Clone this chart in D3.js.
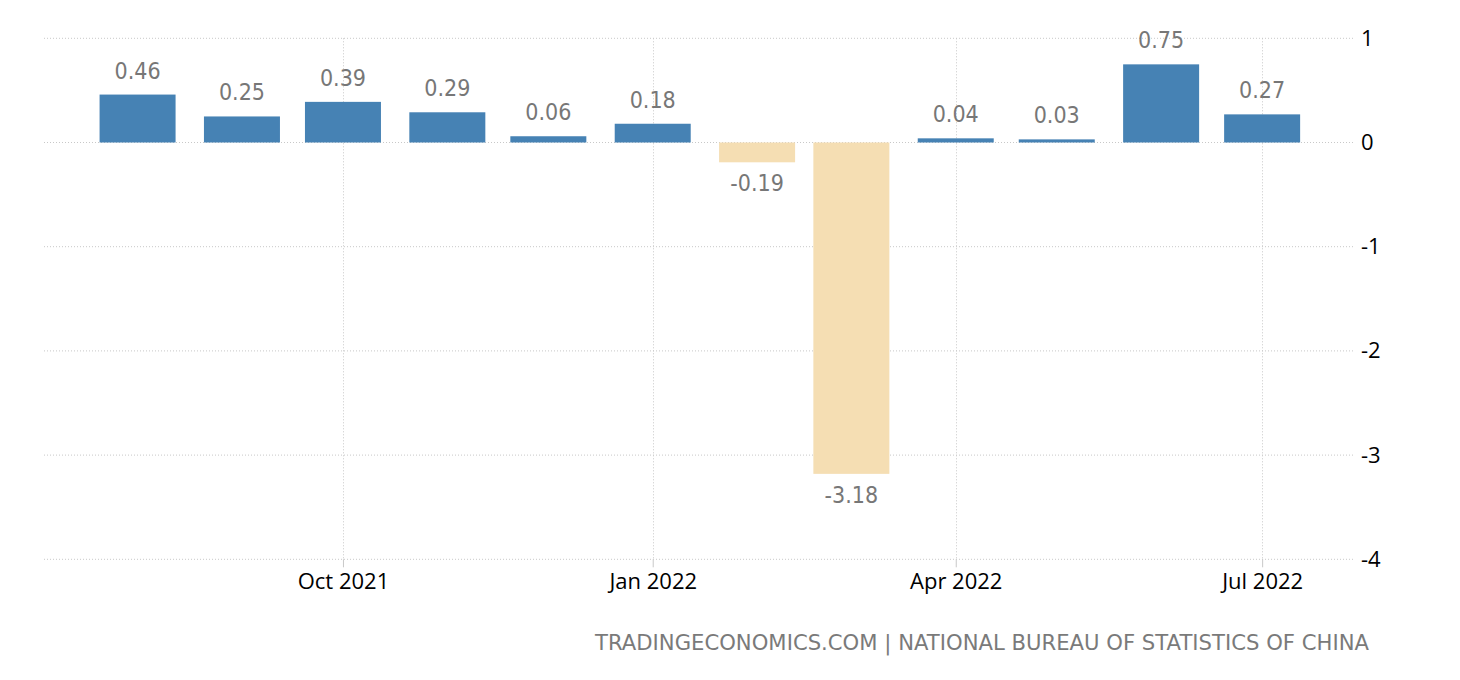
<!DOCTYPE html>
<html>
<head>
<meta charset="utf-8">
<script src="https://cdn.jsdelivr.net/npm/d3@7/dist/d3.min.js"></script>
<style>
  html, body { margin: 0; padding: 0; background: #fff; }
  svg { display: block; }
</style>
</head>
<body>
<svg id="chart" width="1460" height="680"></svg>
<script>
// ---- data ----
const months = ["2021-08","2021-09","2021-10","2021-11","2021-12","2022-01","2022-02","2022-03","2022-04","2022-05","2022-06","2022-07"];
const values = [0.46, 0.25, 0.39, 0.29, 0.06, 0.18, -0.19, -3.18, 0.04, 0.03, 0.75, 0.27];
const xTickDates = ["2021-10","2022-01","2022-04","2022-07"];
const yTicks = [-4, -3, -2, -1, 0, 1];
const sourceText = "TRADINGECONOMICS.COM | NATIONAL BUREAU OF STATISTICS OF CHINA";

(function () {
const parse = d3.timeParse("%Y-%m");
const data = months.map((m, i) => ({ date: parse(m), value: values[i] }));
const hy = s => s.replace("\u2212", "-");

const svg = d3.select("#chart");
const plotL = 44, plotR = 1355, plotT = 38.3, plotB = 559.3;

const x = d3.scaleTime()
  .domain([new Date(2021, 6, 4, 5), new Date(2022, 6, 28, 14)])
  .range([plotL, plotR]);
const y = d3.scaleLinear().domain([-4, 1]).range([plotB, plotT]);

const barW = 76;

// horizontal grid
svg.append("g").selectAll("line").data(yTicks).join("line")
  .attr("x1", plotL).attr("x2", plotR)
  .attr("y1", d => y(d)).attr("y2", d => y(d))
  .attr("stroke", "#c8c8c8").attr("stroke-width", 1)
  .attr("stroke-dasharray", "1,2");

// vertical grid
const tickDates = xTickDates.map(parse);
svg.append("g").selectAll("line").data(tickDates).join("line")
  .attr("x1", d => Math.round(x(d)) + 0.5).attr("x2", d => Math.round(x(d)) + 0.5)
  .attr("y1", plotT).attr("y2", plotB)
  .attr("stroke", "#c8c8c8").attr("stroke-width", 1)
  .attr("stroke-dasharray", "1,2");

// bars
svg.append("g").selectAll("rect").data(data).join("rect")
  .attr("x", d => x(d.date) - barW / 2)
  .attr("width", barW)
  .attr("y", d => Math.min(y(d.value), y(0)))
  .attr("height", d => Math.abs(y(d.value) - y(0)))
  .attr("fill", d => d.value >= 0 ? "steelblue" : "wheat");

// value labels
svg.append("g").selectAll("text").data(data).join("text")
  .attr("x", d => x(d.date))
  .attr("y", d => d.value >= 0 ? y(d.value) - 16 : y(d.value) + 29)
  .attr("text-anchor", "middle")
  .attr("font-family", "'DejaVu Sans Condensed', 'DejaVu Sans', sans-serif")
  .attr("font-size", "23px")
  .attr("fill", "#777")
  .text(d => hy(d3.format(".2f")(d.value)));

// x axis
const xAxis = d3.axisBottom(x)
  .tickValues(tickDates)
  .tickFormat(d3.timeFormat("%b %Y"))
  .tickSize(8)
  .tickPadding(6);
const gx = svg.append("g").attr("transform", `translate(0,${plotB})`).call(xAxis);
gx.select(".domain").remove();
gx.selectAll(".tick line").attr("stroke", "#c8c8c8");
gx.selectAll(".tick text")
  .attr("font-family", "'Open Sans', sans-serif")
  .attr("font-size", "22px")
  .attr("fill", "#000");

// y axis
const yAxis = d3.axisRight(y).tickValues(yTicks).tickSize(0).tickPadding(6)
  .tickFormat(d => hy(d3.format("d")(d)));
const gy = svg.append("g").attr("transform", `translate(${plotR},0)`).call(yAxis);
gy.select(".domain").remove();
gy.selectAll(".tick text")
  .attr("font-family", "'Open Sans', sans-serif")
  .attr("font-size", "22px")
  .attr("fill", "#000");

// source
svg.append("text")
  .attr("x", 595).attr("y", 650)
  .attr("textLength", 774)
  .attr("lengthAdjust", "spacingAndGlyphs")
  .attr("font-family", "'DejaVu Sans', sans-serif")
  .attr("font-size", "21px")
  .attr("fill", "#7a7a7a")
  .text(sourceText);
})();
</script>
</body>
</html>
